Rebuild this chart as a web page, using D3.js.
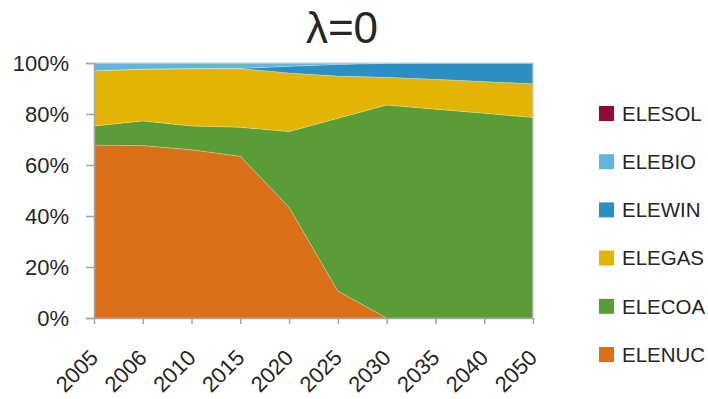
<!DOCTYPE html>
<html><head><meta charset="utf-8">
<script src="https://cdn.jsdelivr.net/npm/d3@7"></script>
<style>body{margin:0;background:#fff}svg{display:block}text{font-family:"Liberation Sans",Arial,sans-serif;fill:#262626}</style>
</head><body>
<svg id="c" width="708" height="399"></svg>
<script>
const years = ["2005","2006","2010","2015","2020","2025","2030","2035","2040","2050"];
const ELENUC = [67.8, 67.6, 66.0, 63.4, 43.4, 10.6, 0, 0, 0, 0];
const ELECOA = [7.5, 9.7, 9.3, 11.4, 29.7, 67.7, 83.5, 81.9, 80.3, 78.6];
const ELEGAS = [21.7, 20.3, 22.5, 23.0, 23.0, 16.6, 10.9, 11.7, 12.4, 13.3];
const ELEWIN = [0, 0, 0, 0.1, 2.6, 4.5, 5.5, 6.4, 7.3, 8.1];
const ELEBIO = [3.0, 2.4, 2.2, 2.1, 1.3, 0.6, 0.1, 0, 0, 0];
const ELESOL = [0, 0, 0, 0, 0, 0, 0, 0, 0, 0];
const seriesNames = ["ELENUC","ELECOA","ELEGAS","ELEWIN","ELEBIO","ELESOL"];
const seriesValues = [ELENUC, ELECOA, ELEGAS, ELEWIN, ELEBIO, ELESOL];
const colors = ["#DA711A","#5A9C35","#E2B504","#2B8FC3","#62B6DB","#900C32"];
const yTicks = [0, 0.2, 0.4, 0.6, 0.8, 1.0];
const title = "λ=0";

const svg = d3.select("#c");
const L = 94, R = 533, T = 63, B = 318;
const x = d3.scalePoint().domain(years).range([L, R]).padding(0);
const y = d3.scaleLinear().domain([0, 1]).range([B, T]);

const rows = years.map((yr, i) => {
  const o = {year: yr};
  seriesNames.forEach((s, j) => o[s] = seriesValues[j][i]);
  return o;
});
const stack = d3.stack().keys(seriesNames).offset(d3.stackOffsetExpand);
const layers = stack(rows);
const area = d3.area().x(d => x(d.data.year)).y0(d => y(d[0])).y1(d => y(d[1]));

svg.append("g").selectAll("path").data(layers).join("path")
  .attr("d", area).attr("fill", (d, i) => colors[i])
  .attr("stroke", "#ffffff").attr("stroke-opacity", 0.35).attr("stroke-width", 0.6);

// plot border top/right
svg.append("path").attr("d", `M${L},${T}H${R}V${B}`).attr("fill", "none").attr("stroke", "#C8C8C8").attr("stroke-width", 1.2);

// y axis
const ya = svg.append("g").attr("transform", `translate(${L},0)`)
  .call(d3.axisLeft(y).tickValues(yTicks).tickFormat(d3.format(".0%")).tickSize(8).tickPadding(17));
ya.select(".domain").attr("stroke", "#A6A6A6").attr("stroke-width", 1.5);
ya.selectAll(".tick line").attr("stroke", "#A6A6A6").attr("stroke-width", 1.5);
ya.selectAll(".tick text").attr("font-size", 22).attr("fill", "#262626").attr("font-family", "Liberation Sans, Arial, sans-serif");

// x axis
const xa = svg.append("g").attr("transform", `translate(0,${B})`)
  .call(d3.axisBottom(x).tickSize(6).tickSizeOuter(0));
xa.select(".domain").attr("stroke", "#A6A6A6").attr("stroke-width", 1.5);
xa.selectAll(".tick line").attr("stroke", "#A6A6A6").attr("stroke-width", 1.5);
xa.selectAll(".tick text").attr("font-size", 22).attr("fill", "#262626")
  .attr("font-family", "Liberation Sans, Arial, sans-serif")
  .attr("text-anchor", "end").attr("dy", null).attr("y", null)
  .attr("transform", "translate(5,41) rotate(-45)");

// title
svg.append("text").attr("x", 342).attr("y", 43).attr("text-anchor", "middle")
  .attr("font-size", 44).text(title);

// legend
const legendOrder = seriesNames.map((s, i) => i).reverse();
const lg = svg.append("g");
legendOrder.forEach((si, k) => {
  const cy = 113.5 + k * 48.2;
  lg.append("rect").attr("x", 599).attr("y", cy - 7.5).attr("width", 15).attr("height", 15).attr("fill", colors[si]);
  lg.append("text").attr("x", 622).attr("y", cy).attr("dy", "0.36em").attr("font-size", 20.5).text(seriesNames[si]);
});
</script>
</body></html>
